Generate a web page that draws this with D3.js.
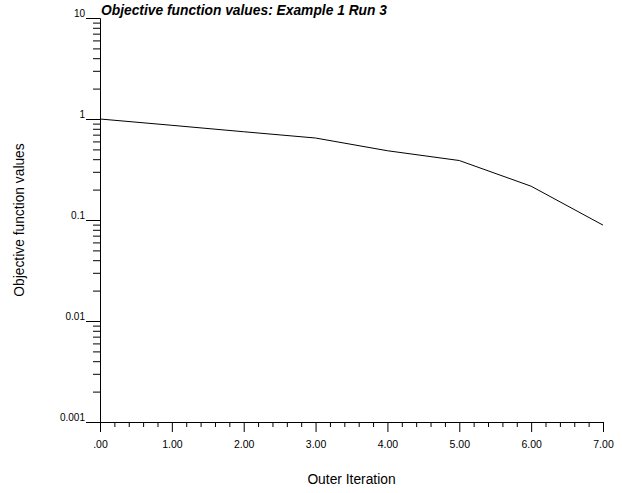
<!DOCTYPE html>
<html>
<head>
<meta charset="utf-8">
<script src="https://cdn.jsdelivr.net/npm/d3@7"></script>
<style>
  body { margin: 0; background: #fff; }
  text { font-family: "Liberation Sans", Arial, sans-serif; fill: #000; }
</style>
</head>
<body>
<div id="chart"></div>
<script>
// data
const iterations = [0, 1, 2, 3, 4, 5, 6, 7]
const objectiveValues = [1.0, 0.866, 0.748, 0.648, 0.485, 0.388, 0.216, 0.089]
const yMajorTicks = [0.001, 0.01, 0.1, 1, 10]
const yTickLabels = ["0.001", "0.01", "0.1", "1", "10"]
const xMajorTicks = [0, 1, 2, 3, 4, 5, 6, 7]
const xTickLabels = [".00", "1.00", "2.00", "3.00", "4.00", "5.00", "6.00", "7.00"]

const width = 622
const height = 493
const plotLeft = 100, plotRight = 603, plotTop = 18, plotBottom = 422

const svg = d3.select("#chart")
  .append("svg")
  .attr("width", width)
  .attr("height", height)

const x = d3.scaleLinear().domain([0, 7]).range([plotLeft, plotRight])
const y = d3.scaleLog().domain([0.001, 10]).range([plotBottom, plotTop])

// minor ticks: 2..9 for each decade on y, fifths on x
const yMinor = []
for (let e = -3; e < 1; e++) {
  for (let k = 2; k <= 9; k++) yMinor.push(k * Math.pow(10, e))
}
const xMinor = []
for (let i = 0; i < 7; i++) {
  for (let k = 1; k <= 4; k++) xMinor.push(i + k / 5)
}

// y axis
svg.append("g")
  .attr("transform", `translate(${plotLeft},0)`)
  .call(d3.axisLeft(y).tickValues(yMinor).tickSize(7).tickSizeOuter(0).tickFormat(""))
  .call(g => g.selectAll("text").remove())

svg.append("g")
  .attr("transform", `translate(${plotLeft},0)`)
  .call(d3.axisLeft(y).tickValues(yMajorTicks).tickSize(14).tickSizeOuter(0)
    .tickFormat((d, i) => yTickLabels[i]))
  .call(g => g.selectAll("text")
    .attr("x", -15)
    .attr("dy", "-0.15em")
    .style("font-size", "10px"))

// x axis
svg.append("g")
  .attr("transform", `translate(0,${plotBottom})`)
  .call(d3.axisBottom(x).tickValues(xMinor).tickSize(5).tickSizeOuter(0).tickFormat(""))
  .call(g => g.selectAll("text").remove())

svg.append("g")
  .attr("transform", `translate(0,${plotBottom})`)
  .call(d3.axisBottom(x).tickValues(xMajorTicks).tickSize(10).tickSizeOuter(0)
    .tickFormat((d, i) => xTickLabels[i]))
  .call(g => g.selectAll("text")
    .attr("y", 19)
    .style("font-size", "10.5px"))

svg.selectAll(".domain, .tick line").attr("stroke", "#000").attr("stroke-width", 1)

// the line
const line = d3.line()
  .x((d, i) => x(iterations[i]))
  .y(d => y(d))

svg.append("path")
  .datum(objectiveValues)
  .attr("d", line)
  .attr("fill", "none")
  .attr("stroke", "#000")
  .attr("stroke-width", 1)

// title and axis titles
svg.append("text")
  .attr("x", 101)
  .attr("y", 15)
  .style("font-size", "13.8px")
  .style("font-weight", "bold")
  .style("font-style", "italic")
  .text("Objective function values: Example 1 Run 3")

svg.append("text")
  .attr("x", (plotLeft + plotRight) / 2)
  .attr("y", 484)
  .attr("text-anchor", "middle")
  .style("font-size", "13.8px")
  .text("Outer Iteration")

svg.append("text")
  .attr("transform", `translate(24,${(plotTop + plotBottom) / 2}) rotate(-90)`)
  .attr("text-anchor", "middle")
  .style("font-size", "13.8px")
  .text("Objective function values")
</script>
</body>
</html>
